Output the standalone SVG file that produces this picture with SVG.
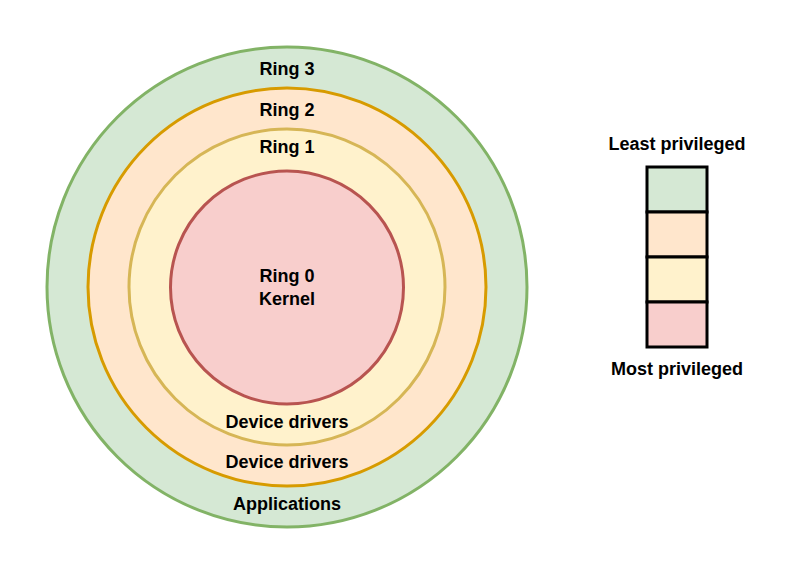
<svg xmlns="http://www.w3.org/2000/svg" width="804" height="575" viewBox="0 0 804 575">
<style>
text{font-family:"Liberation Sans",Arial,sans-serif;font-size:18px;font-weight:bold;fill:#000;text-anchor:middle}
.r{stroke-width:3}
.g{fill:#d5e8d4;stroke:#82b366}
.o{fill:#ffe6cc;stroke:#d79b00}
.y{fill:#fff2cc;stroke:#d6b656}
.p{fill:#f8cecc;stroke:#b85450}
.b{stroke:#000;stroke-width:3}
</style>
<rect width="804" height="575" fill="#fff"/>
<g id="ring3"><circle class="r g" cx="287" cy="287" r="240"/></g>
<g id="ring2"><circle class="r o" cx="287" cy="287" r="199"/></g>
<g id="ring1"><circle class="r y" cx="287" cy="287" r="158"/></g>
<g id="ring0"><circle class="r p" cx="287" cy="287.5" r="116.5"/></g>
<g id="labels">
<text x="287" y="75">Ring 3</text>
<text x="287" y="116">Ring 2</text>
<text x="287" y="153">Ring 1</text>
<text x="287" y="282">Ring 0</text>
<text x="287" y="305">Kernel</text>
<text x="287" y="428">Device drivers</text>
<text x="287" y="468">Device drivers</text>
<text x="287" y="510">Applications</text>
</g>
<g id="legend">
<text x="677" y="150">Least privileged</text>
<rect class="b" x="647" y="167" width="60" height="45" fill="#d5e8d4"/>
<rect class="b" x="647" y="212" width="60" height="45" fill="#ffe6cc"/>
<rect class="b" x="647" y="257" width="60" height="45" fill="#fff2cc"/>
<rect class="b" x="647" y="302" width="60" height="45" fill="#f8cecc"/>
<text x="677" y="375">Most privileged</text>
</g>
<g id="connectors"/>
</svg>
